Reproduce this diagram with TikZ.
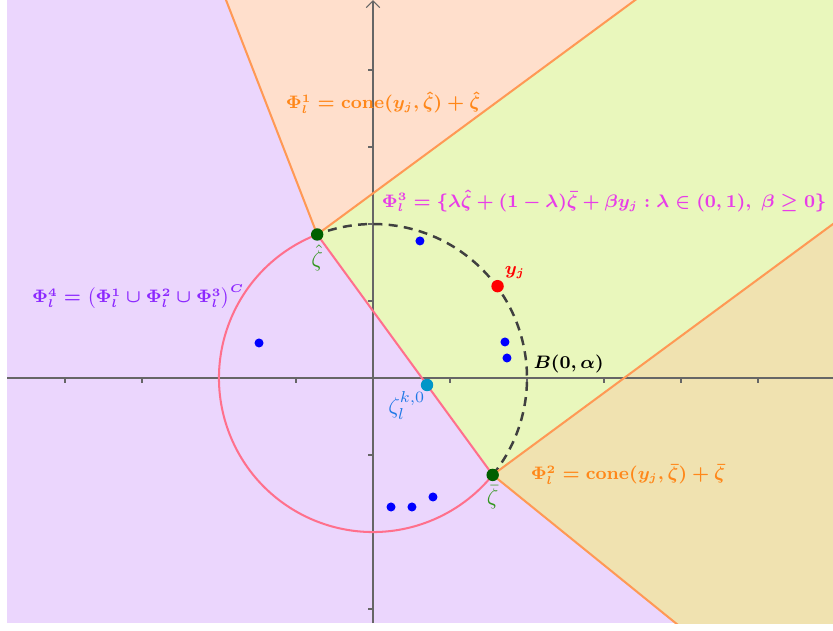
\documentclass[tikz,border=0pt]{standalone}
\usepackage{amsmath,amssymb}
\usetikzlibrary{calc,arrows.meta}
\definecolor{phifour}{RGB}{235,214,253}
\definecolor{phione}{RGB}{255,223,204}
\definecolor{phithree}{RGB}{233,247,188}
\definecolor{phitwo}{RGB}{240,226,176}
\definecolor{rayorange}{RGB}{255,153,85}
\definecolor{chordpink}{RGB}{255,112,140}
\definecolor{labelorange}{RGB}{255,135,25}
\definecolor{labelmagenta}{RGB}{232,60,232}
\definecolor{labelpurple}{RGB}{140,40,255}
\definecolor{zetagreen}{RGB}{50,150,30}
\definecolor{dotgreen}{RGB}{0,95,0}
\definecolor{dottal}{RGB}{0,150,200}
\definecolor{zetablue}{RGB}{30,120,230}
\begin{document}
\begin{tikzpicture}[x=1.2cm, y=1.2cm,
    axis/.style={draw=black!60, line width=0.5pt},
    ray/.style={draw=rayorange, line width=0.9pt},
    boundary/.style={draw=chordpink, line width=0.9pt},
    ball/.style={draw=black!75, line width=1.1pt, dash pattern=on 4pt off 2.8pt},
    dot/.style={circle, inner sep=0pt, minimum size=#1},
    dot/.default=4pt,
    setlabel/.style={font=\fontsize{7.7}{9}\selectfont\boldmath, inner sep=1pt}
]
    \useasboundingbox (-4.844,-3.273) rectangle (5.974,4.909);
    \begin{scope}
    \clip (-4.753,-3.182) rectangle (5.974,4.909);

    % Points
    \coordinate (zhat) at (111.25:2);
    \coordinate (zbar) at (-39:2);
    \coordinate (hatfar) at ($(zhat)+(111.25:12)$);
    \coordinate (hatray) at ($(zhat)+(36.4:14)$);
    \coordinate (barray) at ($(zbar)+(36.4:14)$);
    \coordinate (barfar) at ($(zbar)+(-39:12)$);

    % Regions
    \fill[phifour] (-4.753,-3.182) rectangle (5.974,4.909);
    \fill[phione] (zhat) -- (hatray) -- (hatfar) -- cycle;
    \fill[phithree] (zhat) -- (zbar) -- (barray) -- (hatray) -- cycle;
    \fill[phitwo] (zbar) -- (barfar) -- (barray) -- cycle;

    % Axes
    \draw[axis] (-4.753,0) -- (5.974,0);
    \draw[axis, -{Straight Barb[length=3pt]}] (0,-3.182) -- (0,4.909);
    \foreach \x in {-4,-3,-2,-1,1,2,3,4,5}
        \draw[axis] (\x,0) -- (\x,-0.06);
    \foreach \y in {-3,-2,-1,1,2,3,4}
        \draw[axis] (0,\y) -- (-0.06,\y);

    % Boundaries
    \draw[boundary] (zhat) arc[start angle=111.25, end angle=321, radius=2];
    \draw[boundary] (zhat) -- (zbar);
    \draw[ball] (zbar) arc[start angle=-39, end angle=111.25, radius=2];
    \draw[ray] (hatfar) -- (zhat) -- (hatray);
    \draw[ray] (barray) -- (zbar) -- (barfar);
    \end{scope}

    % Sample points
    \foreach \p [count=\i] in {(0.61,1.78),(-1.48,0.455),(1.714,0.468),(1.74,0.26),(0.234,-1.675),(0.506,-1.675),(0.779,-1.545)}
        \node[dot, fill=blue] (s\i) at \p {};
    \node[dot=5.5pt, fill=red] (yj) at (36.4:2.01) {};
    \node[dot=5.5pt, fill=dottal] (zkl) at ($(zhat)!0.626!(zbar)$) {};
    \node[dot=5.5pt, fill=dotgreen] (zhatpt) at (zhat) {};
    \node[dot=5.5pt, fill=dotgreen] (zbarpt) at (zbar) {};

    % Labels
    \node[setlabel, text=labelorange] (phione) at (0.13,3.58) {$\Phi_l^1=\mathrm{cone}(y_j,\hat{\zeta})+\hat{\zeta}$};
    \node[setlabel, text=labelmagenta] (phithree) at (3.0,2.30) {$\Phi_l^3=\{\lambda\hat{\zeta}+(1-\lambda)\bar{\zeta}+\beta y_j:\lambda\in(0,1),\ \beta\geq0\}$};
    \node[setlabel, text=labelpurple] (phifour) at (-3.05,1.05) {$\Phi_l^4=\big(\Phi_l^1\cup\Phi_l^2\cup\Phi_l^3\big)^C$};
    \node[setlabel, text=labelorange] (phitwo) at (3.31,-1.25) {$\Phi_l^2=\mathrm{cone}(y_j,\bar{\zeta})+\bar{\zeta}$};
    \node[setlabel, text=red, anchor=south west] at (yj.north east) {$y_j$};
    \node[setlabel, anchor=south west] (ball) at (2.05,0.03) {$B(0,\alpha)$};
    \node[text=zetablue, anchor=north east, inner sep=0.5pt] at ([xshift=2pt]zkl.south west) {$\zeta_l^{k,0}$};
    \node[text=zetagreen, anchor=north, inner sep=1.5pt] at (zhatpt.south) {$\hat{\zeta}$};
    \node[text=zetagreen, anchor=north, inner sep=1.5pt] at (zbarpt.south) {$\bar{\zeta}$};
\end{tikzpicture}
\end{document}
